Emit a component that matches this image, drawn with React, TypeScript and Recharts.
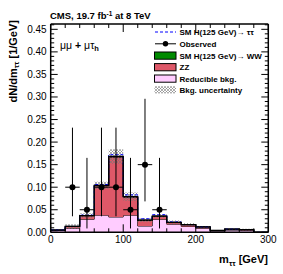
import React from "react";
import { ComposedChart, Area, Line, Scatter, ErrorBar, XAxis, YAxis } from "recharts";

// 20 GeV bins, lower edges
const binLow = [0, 20, 40, 60, 80, 100, 120, 140, 160, 180, 200, 220, 240, 260, 280];
const reducible = [0.004, 0.009, 0.029, 0.038, 0.034, 0.038, 0.014, 0.029, 0.018, 0.013, 0.009, 0.003, 0.005, 0.004, 0];
const zz = [0.001, 0.004, 0.0075, 0.065, 0.133, 0.04, 0.0125, 0.0065, 0.0035, 0.004, 0.003, 0.001, 0.002, 0.002, 0];
const hww = [0, 0, 0.0005, 0.001, 0.001, 0.001, 0.0005, 0.0005, 0.0005, 0, 0, 0, 0, 0, 0];
const htt = [0, 0, 0.001, 0.002, 0.004, 0.004, 0.003, 0.003, 0.001, 0, 0, 0, 0, 0, 0];
const bkgUnc = [0.001, 0.005, 0.005, 0.008, 0.016, 0.009, 0.004, 0.004, 0.004, 0.003, 0.002, 0.001, 0.002, 0.002, 0];

const obsMass = [30, 50, 70, 90, 110, 130, 150];
const obsValue = [0.1, 0.05, 0.1, 0.1, 0.05, 0.15, 0.05];
const obsErrLow = [0.0645, 0.0415, 0.0645, 0.0645, 0.0415, 0.0815, 0.0415];
const obsErrHigh = [0.132, 0.115, 0.132, 0.132, 0.115, 0.146, 0.115];

const xTicks = [0, 20, 40, 60, 80, 100, 120, 140, 160, 180, 200, 220, 240, 260, 280, 300];
const xLabels = [0, 100, 200, 300];
const yTicks = [
  0, 0.01, 0.02, 0.03, 0.04, 0.05, 0.06, 0.07, 0.08, 0.09, 0.1, 0.11, 0.12, 0.13, 0.14, 0.15, 0.16,
  0.17, 0.18, 0.19, 0.2, 0.21, 0.22, 0.23, 0.24, 0.25, 0.26, 0.27, 0.28, 0.29, 0.3, 0.31, 0.32,
  0.33, 0.34, 0.35, 0.36, 0.37, 0.38, 0.39, 0.4, 0.41, 0.42, 0.43, 0.44, 0.45, 0.46,
];
const yLabels = ["0.00", "0.05", "0.10", "0.15", "0.20", "0.25", "0.30", "0.35", "0.40", "0.45"];

const FONT = '"Liberation Sans", Arial, Helvetica, sans-serif';
const RED = "#de5868";
const PINK = "#ffccff";
const GREEN = "#008a00";

const at = (arr: number[], i: number) => (i < arr.length ? arr[i] : 0);

const histRows = [...binLow, 300].map((m, i) => {
  const total = at(reducible, i) + at(zz, i) + at(hww, i);
  return {
    m,
    red: at(reducible, i),
    zz: at(zz, i),
    ww: at(hww, i),
    total,
    sig: total + at(htt, i),
    unc: [Math.max(0, total - at(bkgUnc, i)), total + at(bkgUnc, i)],
  };
});

const obsRows = obsMass.map((m, i) => ({
  m,
  v: obsValue[i],
  ey: [obsErrLow[i], obsErrHigh[i]],
  ex: 10,
}));

const BottomTick = (p: any) => {
  const v = p.payload.value;
  const major = xLabels.includes(v);
  return (
    <g>
      <line x1={p.x} x2={p.x} y1={p.y} y2={p.y - (major ? 8 : 4)} stroke="#000" />
      {major && (
        <text x={p.x} y={p.y + 11} textAnchor="middle" fontSize={10} fontFamily={FONT} fill="#000">
          {v}
        </text>
      )}
    </g>
  );
};

const TopTick = (p: any) => {
  const major = xLabels.includes(p.payload.value);
  return <line x1={p.x} x2={p.x} y1={p.y} y2={p.y + (major ? 8 : 4)} stroke="#000" />;
};

const LeftTick = (p: any) => {
  const v = p.payload.value;
  const label = v.toFixed(2);
  const major = yLabels.includes(label);
  return (
    <g>
      <line x1={p.x} x2={p.x + (major ? 7 : 3.5)} y1={p.y} y2={p.y} stroke="#000" />
      {major && (
        <text x={p.x - 4} y={p.y + 3.5} textAnchor="end" fontSize={10} fontFamily={FONT} fill="#000">
          {label}
        </text>
      )}
    </g>
  );
};

const RightTick = (p: any) => {
  const major = yLabels.includes(p.payload.value.toFixed(2));
  return <line x1={p.x} x2={p.x - (major ? 7 : 3.5)} y1={p.y} y2={p.y} stroke="#000" />;
};

const Dot = (p: any) => <circle cx={p.cx} cy={p.cy} r={3} fill="#000" />;

const legendRows = [32, 43.8, 55.6, 67.2, 78.6, 89.8];

export default function App() {
  const yDomain = [0, 0.4618];
  return (
    <div style={{ position: "relative", width: 283, height: 274 }}>
      <style>{"body{margin:0;background:#fff}"}</style>
      <ComposedChart width={283} height={274} data={histRows} margin={{ top: 0, right: 0, bottom: 0, left: 0 }}>
        <defs>
          <pattern id="hatch" width="3" height="3" patternUnits="userSpaceOnUse">
            <path d="M0,0 L3,3 M3,0 L0,3" stroke="#777" strokeWidth={0.6} />
          </pattern>
        </defs>
        <XAxis dataKey="m" type="number" domain={[0, 300]} ticks={xTicks} interval={0} height={41.7}
          tickSize={0} tickMargin={0} tick={BottomTick} axisLine={{ stroke: "#000", strokeWidth: 1.5 }} allowDataOverflow />
        <XAxis xAxisId="top" orientation="top" dataKey="m" type="number" domain={[0, 300]} ticks={xTicks} interval={0}
          height={24} tickSize={0} tickMargin={0} tick={TopTick} axisLine={{ stroke: "#000", strokeWidth: 1.5 }} allowDataOverflow />
        <YAxis type="number" domain={yDomain} ticks={yTicks} interval={0} width={50.7} tickSize={0} tickMargin={0}
          tick={LeftTick} axisLine={{ stroke: "#000", strokeWidth: 1.5 }} allowDataOverflow />
        <YAxis yAxisId="right" orientation="right" type="number" domain={yDomain} ticks={yTicks} interval={0} width={14.7}
          tickSize={0} tickMargin={0} tick={RightTick} axisLine={{ stroke: "#000", strokeWidth: 1.5 }} allowDataOverflow />
        <Area dataKey="red" stackId="bkg" type="stepAfter" fill={PINK} fillOpacity={1} stroke="#000" strokeWidth={1} isAnimationActive={false} />
        <Area dataKey="zz" stackId="bkg" type="stepAfter" fill={RED} fillOpacity={1} stroke="#000" strokeWidth={1} isAnimationActive={false} />
        <Area dataKey="ww" stackId="bkg" type="stepAfter" fill={GREEN} fillOpacity={1} stroke="#000" strokeWidth={1} isAnimationActive={false} />
        <Area dataKey="unc" type="stepAfter" fill="url(#hatch)" fillOpacity={1} stroke="none" isAnimationActive={false} />
        <Line dataKey="sig" type="stepAfter" stroke="#0000ff" strokeDasharray="3 2" strokeWidth={1} dot={false} isAnimationActive={false} />
        <Line dataKey="total" type="stepAfter" stroke="#000" strokeWidth={1.3} dot={false} isAnimationActive={false} />
        <Scatter data={obsRows} dataKey="v" shape={Dot} isAnimationActive={false}>
          <ErrorBar dataKey="ey" direction="y" width={0} stroke="#000" strokeWidth={1} />
          <ErrorBar dataKey="ex" direction="x" width={0} stroke="#000" strokeWidth={1} />
        </Scatter>
      </ComposedChart>
      <svg width={283} height={274} style={{ position: "absolute", left: 0, top: 0, pointerEvents: "none" }} fontFamily={FONT}>
        <text x={50} y={19} fontSize={9.5} fontWeight="bold">
          CMS, 19.7 fb<tspan dy={-3} fontSize={6.5}>-1</tspan>
          <tspan dy={3}> at 8 TeV</tspan>
        </text>
        <text x={60} y={48.5} fontSize={10.5}>
          μμ <tspan fontWeight="bold">+</tspan> μτ<tspan dy={2.5} fontSize={7.5} fontWeight="bold">h</tspan>
        </text>
        <text transform="translate(16.5,20) rotate(-90)" textAnchor="end" fontSize={11} fontWeight="bold">
          dN/dm<tspan dy={2.5} fontSize={7.5}>ττ</tspan>
          <tspan dy={-2.5}> [1/GeV]</tspan>
        </text>
        <text x={268} y={263} textAnchor="end" fontSize={11} fontWeight="bold">
          m<tspan dy={2.5} fontSize={7.5}>ττ</tspan>
          <tspan dy={-2.5}> [GeV]</tspan>
        </text>
        <g fontSize={8} fontWeight="bold">
          <line x1={155} x2={176} y1={legendRows[0]} y2={legendRows[0]} stroke="#0000ff" strokeDasharray="3 2" />
          <text x={179.5} y={legendRows[0] + 2.9}>SM H(125 GeV)→ ττ</text>
          <line x1={155} x2={176} y1={legendRows[1]} y2={legendRows[1]} stroke="#000" />
          <circle cx={165.5} cy={legendRows[1]} r={2.7} fill="#000" />
          <text x={179.5} y={legendRows[1] + 2.9}>Observed</text>
          <rect x={154.5} y={legendRows[2] - 3.6} width={21.5} height={7.2} fill={GREEN} stroke="#000" />
          <text x={179.5} y={legendRows[2] + 2.9}>SM H(125 GeV)→ WW</text>
          <rect x={154.5} y={legendRows[3] - 3.6} width={21.5} height={7.2} fill={RED} stroke="#000" />
          <text x={179.5} y={legendRows[3] + 2.9}>ZZ</text>
          <rect x={154.5} y={legendRows[4] - 3.6} width={21.5} height={7.2} fill={PINK} stroke="#000" />
          <text x={179.5} y={legendRows[4] + 2.9}>Reducible bkg.</text>
          <rect x={154.5} y={legendRows[5] - 3.6} width={21.5} height={7.2} fill="url(#hatch)" />
          <text x={179.5} y={legendRows[5] + 2.9}>Bkg. uncertainty</text>
        </g>
      </svg>
    </div>
  );
}
